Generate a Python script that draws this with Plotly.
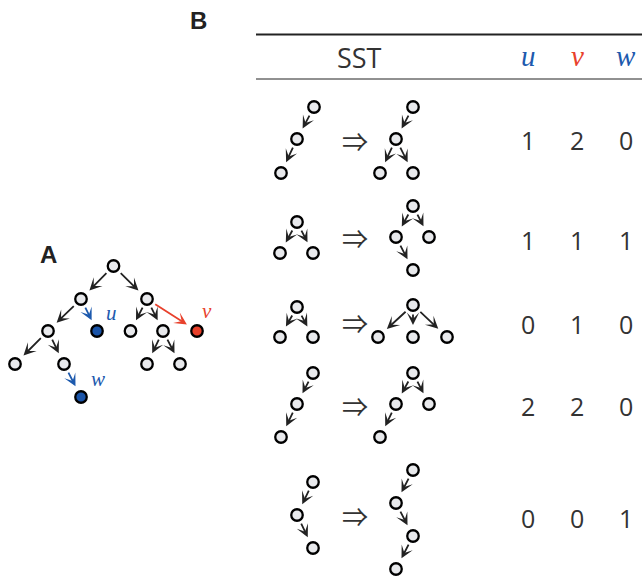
import plotly.graph_objects as go

W, H = 642, 586

# ---- data ----
count_labels = ["u", "v", "w"]
count_colors = ["#1d5aae", "#e8412c", "#1d5aae"]
u_counts = [1, 1, 0, 2, 0]
v_counts = [2, 1, 1, 2, 0]
w_counts = [0, 1, 0, 0, 1]
row_y = [140, 240, 324, 406, 518]
col_x = [528, 577, 626]

# Panel A tree
A_nodes = {
    "r": (113.5, 266), "a": (81, 299), "b": (147, 299),
    "c": (48, 331), "u": (97, 331), "d": (130.5, 331), "e": (163, 331), "v": (197, 331),
    "f": (15, 364), "g": (64, 364), "h": (147, 364), "i": (180, 364),
    "w": (81, 397),
}
A_edges = [("r", "a"), ("r", "b"), ("a", "c"), ("b", "d"), ("b", "e"),
           ("c", "f"), ("c", "g"), ("e", "h"), ("e", "i")]
A_colored_edges = [("a", "u", "#1d5aae"), ("b", "v", "#e8412c"), ("g", "w", "#1d5aae")]
A_colored_nodes = {"u": "#1a54a8", "v": "#e8402a", "w": "#1a54a8"}
A_labels = [("u", 104, 313, "#1d5aae"), ("v", 200, 311, "#e8412c"), ("w", 89, 379, "#1d5aae")]

# SST table trees: (nodes, edges)
sst_rows = [
    (([(314, 107), (297, 139), (281, 173)], [(0, 1), (1, 2)]),
     ([(413, 107), (396, 139), (380, 173), (413, 173)], [(0, 1), (1, 2), (1, 3)])),
    (([(297, 222), (280, 253), (313, 253)], [(0, 1), (0, 2)]),
     ([(413, 206), (396, 237), (429, 237), (413, 270)], [(0, 1), (0, 2), (1, 3)])),
    (([(297, 307), (280, 337), (313, 337)], [(0, 1), (0, 2)]),
     ([(413, 305), (378, 337), (413, 337), (447, 337)], [(0, 1), (0, 2), (0, 3)])),
    (([(313, 373), (297, 404), (281, 437)], [(0, 1), (1, 2)]),
     ([(413, 373), (396, 404), (429, 404), (380, 437)], [(0, 1), (0, 2), (1, 3)])),
    (([(313, 482), (297, 515), (313, 548)], [(0, 1), (1, 2)]),
     ([(413, 470), (396, 503), (413, 536), (396, 569)], [(0, 1), (1, 2), (2, 3)])),
]
implies_x = 355

# ---- figure ----
fig = go.Figure()
annotations = []
shapes = []

NODE_FILL = "#e8e9ec"
EDGE_COL = "#222222"


def add_arrow(p, c, color=EDGE_COL):
    annotations.append(dict(
        x=c[0], y=c[1], ax=p[0], ay=p[1], xref="x", yref="y", axref="x", ayref="y",
        showarrow=True, arrowhead=3, arrowsize=1.15, arrowwidth=1.8, arrowcolor=color,
        standoff=12, startstandoff=8, text=""))


def add_nodes(pts, fills):
    fig.add_trace(go.Scatter(
        x=[p[0] for p in pts], y=[p[1] for p in pts], mode="markers",
        marker=dict(size=11.5, color=fills, line=dict(color="black", width=2.3)),
        hoverinfo="skip", showlegend=False))


# Panel A
for p, c in A_edges:
    add_arrow(A_nodes[p], A_nodes[c])
for p, c, col in A_colored_edges:
    add_arrow(A_nodes[p], A_nodes[c], col)
names = list(A_nodes)
add_nodes([A_nodes[n] for n in names], [A_colored_nodes.get(n, NODE_FILL) for n in names])
for t, x, y, col in A_labels:
    annotations.append(dict(x=x, y=y, xref="x", yref="y", text=f"<i>{t}</i>", showarrow=False,
                            xanchor="left", yanchor="middle",
                            font=dict(family="Liberation Serif", size=21, color=col)))
annotations.append(dict(x=48, y=254, xref="x", yref="y", text="<b>A</b>", showarrow=False,
                        font=dict(family="Liberation Sans", size=24, color="#222")))

# Panel B
annotations.append(dict(x=198, y=20, xref="x", yref="y", text="<b>B</b>", showarrow=False,
                        font=dict(family="Liberation Sans", size=24, color="#222")))
shapes.append(dict(type="line", xref="x", yref="y", x0=256, x1=642, y0=34.5, y1=34.5,
                   line=dict(color="#222", width=2)))
shapes.append(dict(type="line", xref="x", yref="y", x0=256, x1=642, y0=79, y1=79,
                   line=dict(color="#222", width=1)))
annotations.append(dict(x=359, y=57, xref="x", yref="y", text="SST", showarrow=False,
                        font=dict(family="Open Sans", size=27, color="#333")))
for lab, col, x in zip(count_labels, count_colors, col_x):
    annotations.append(dict(x=x, y=56, xref="x", yref="y", text=f"<i>{lab}</i>", showarrow=False,
                            font=dict(family="Liberation Serif", size=29, color=col)))

for (left, right), y, cu, cv, cw in zip(sst_rows, row_y, u_counts, v_counts, w_counts):
    for nodes, edges in (left, right):
        for a, b in edges:
            add_arrow(nodes[a], nodes[b])
        add_nodes(nodes, [NODE_FILL] * len(nodes))
    ly = (min(p[1] for p in left[0]) + max(p[1] for p in left[0])) / 2
    annotations.append(dict(x=implies_x, y=ly, xref="x", yref="y", text="⇒", showarrow=False,
                            font=dict(family="Noto Sans CJK JP", size=26, color="#333")))
    for x, val in zip(col_x, (cu, cv, cw)):
        annotations.append(dict(x=x, y=y, xref="x", yref="y", text=str(val), showarrow=False,
                                font=dict(family="Open Sans", size=25, color="#333")))

fig.update_layout(
    width=W, height=H, margin=dict(l=0, r=0, t=0, b=0),
    paper_bgcolor="white", plot_bgcolor="white",
    xaxis=dict(range=[0, W], visible=False, fixedrange=True),
    yaxis=dict(range=[H, 0], visible=False, fixedrange=True),
    annotations=annotations, shapes=shapes,
)
fig.write_html("out.html", config={"displayModeBar": False},
               post_script="document.body.style.margin='0';document.body.style.overflow='hidden';")
